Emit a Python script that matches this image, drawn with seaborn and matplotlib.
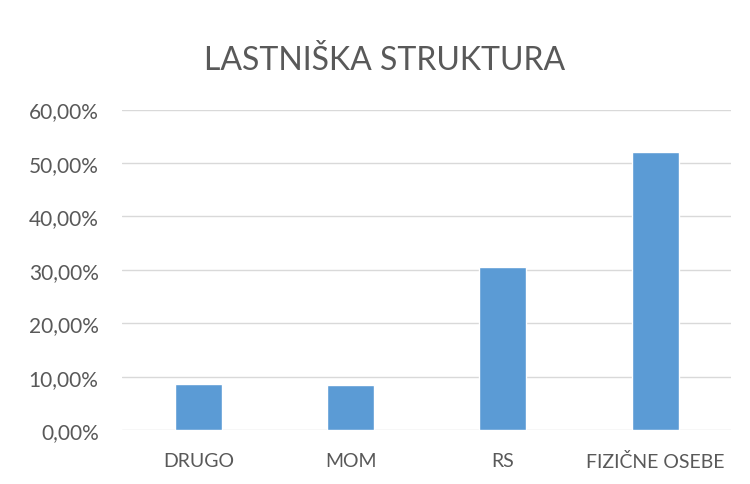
import matplotlib
matplotlib.use("Agg")
import matplotlib.pyplot as plt
import seaborn as sns
import pandas as pd
from matplotlib.ticker import FuncFormatter

categories = ["DRUGO", "MOM", "RS", "FIZIČNE OSEBE"]
values = [0.086, 0.085, 0.306, 0.521]
title = "LASTNIŠKA STRUKTURA"

sns.set_theme(style="white")
plt.rcParams['font.family'] = ['Lato', 'DejaVu Sans']

df = pd.DataFrame({"cat": categories, "val": values})

fig = plt.figure(figsize=(7.5, 4.85), dpi=100)
ax = fig.add_axes([0.163, 0.111, 0.812, 0.661])
sns.barplot(data=df, x="cat", y="val", color="#5B9BD5", saturation=1, width=0.31, ax=ax)

ax.set_ylim(0, 0.6)
ax.set_yticks([0, 0.1, 0.2, 0.3, 0.4, 0.5, 0.6])
ax.yaxis.set_major_formatter(FuncFormatter(lambda v, p: f"{v*100:.2f}%".replace(".", ",")))
ax.grid(axis="y", color="#D9D9D9", linewidth=1)
ax.set_axisbelow(True)
for s in ax.spines.values():
    s.set_visible(False)
ax.set_xlabel("")
ax.set_ylabel("")
ax.tick_params(axis="both", length=0, colors="#595959")
ax.tick_params(axis="x", pad=16, labelsize=14)
ax.tick_params(axis="y", pad=17, labelsize=15)
fig.text(0.513, 0.875, title, ha="center", va="center", fontsize=23, color="#595959")

fig.savefig("out.png", dpi=100)
